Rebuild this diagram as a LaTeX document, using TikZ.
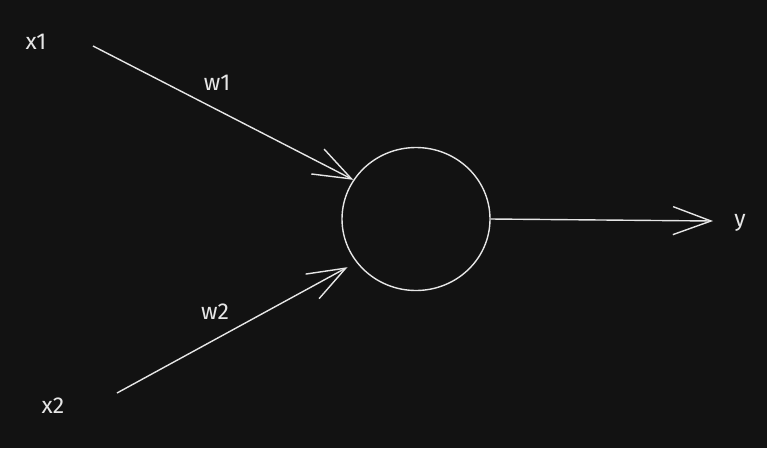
\documentclass[tikz,border=0pt]{standalone}
\usepackage{fontspec}
\setmainfont{Fira Sans}
\usetikzlibrary{arrows.meta,shapes.geometric}
\definecolor{bg}{HTML}{121212}
\definecolor{ink}{HTML}{E6E6E6}
\tikzset{
  link/.style={draw=ink, line width=1.4pt, -{Straight Barb[length=38pt,width=28pt,line width=1.4pt]}},
  lbl/.style={text=ink, font=\fontsize{23}{26}\selectfont, inner sep=0pt},
  neuron/.style={draw=ink, line width=1.4pt, ellipse, minimum width=148pt, minimum height=143pt}
}
\begin{document}
\begin{tikzpicture}[x=1pt,y=-1pt]
\fill[bg] (0,0) rectangle (767,448);
\useasboundingbox (0,0) rectangle (767,448);
\node[neuron] (n) at (416,219) {};
\coordinate (s1) at (93,46);
\coordinate (s2) at (117,393);
\coordinate (e3) at (713,221);
\node[lbl] (x1) at (36,42) {x1};
\node[lbl] (x2) at (53,406) {x2};
\node[lbl] (w1) at (217,83) {w1};
\node[lbl] (w2) at (215,312) {w2};
\node[lbl] (y) at (740,223) {y};
\draw[link] (s1) -- (n.148);
\draw[link, shorten >=10pt] (s2) -- (n.216);
\draw[link] (n.east) -- (e3);
\end{tikzpicture}
\end{document}
